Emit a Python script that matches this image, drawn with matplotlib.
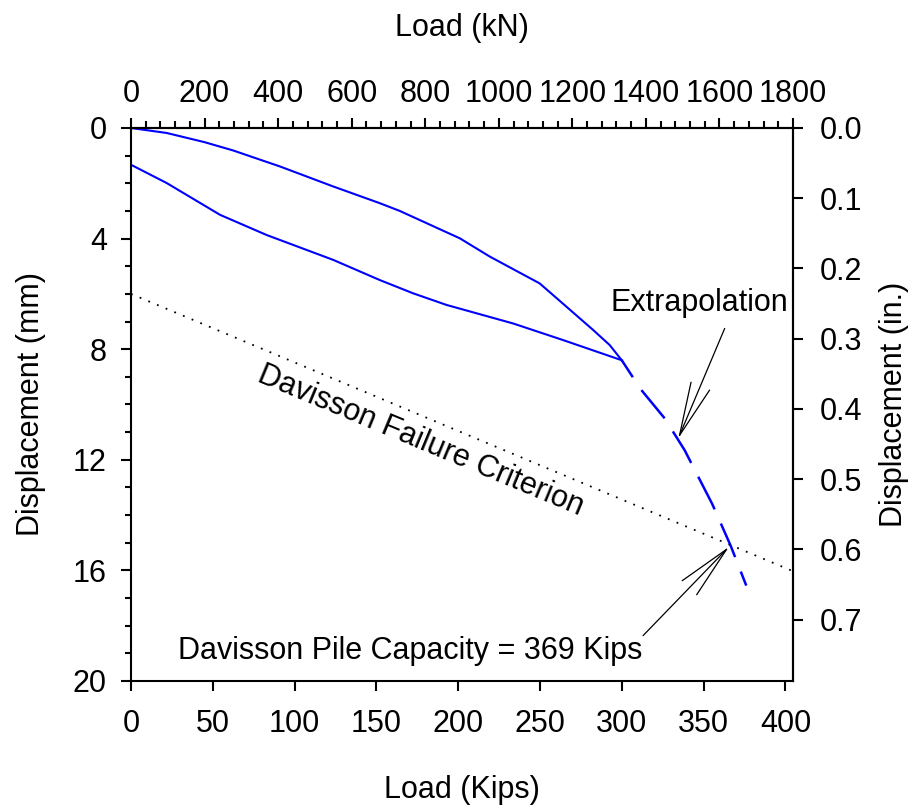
import matplotlib.pyplot as plt
from matplotlib.ticker import MultipleLocator

plt.rcParams['font.family'] = ['Liberation Sans', 'DejaVu Sans']
plt.rcParams['font.size'] = 22

KN_PER_KIP = 4.448
MM_PER_IN = 25.4

# loading branch (kips, mm)
load_up = [0, 21.8, 44.8, 62.3, 91, 123.4, 152.1, 164.3, 201, 219.3, 249.8, 266.1, 282.4, 292.6, 300]
disp_up = [0, 0.18, 0.51, 0.81, 1.39, 2.11, 2.72, 3.0, 3.99, 4.65, 5.62, 6.46, 7.3, 7.85, 8.4]

# unloading branch
load_down = [300, 264.1, 233.6, 192.9, 172.5, 152.1, 123.6, 82.9, 54.4, 21.8, 0]
disp_down = [8.4, 7.67, 7.07, 6.4, 5.98, 5.5, 4.77, 3.87, 3.14, 1.99, 1.33]

# extrapolated part of the curve
load_extrap = [300, 306.6, 312, 326.2, 338.4, 355.3, 366.5, 376.1]
disp_extrap = [8.4, 9.0, 9.48, 10.5, 11.65, 13.6, 15.1, 16.55]

# Davisson failure line
davisson_load = [0, 404.7]
davisson_disp = [6.0, 16.03]

capacity_kips = 369
capacity_disp = 15.15

fig = plt.figure(figsize=(9.11, 8.06), dpi=100)
ax = fig.add_subplot(111)
fig.subplots_adjust(left=0.1438, right=0.8705, top=0.8412, bottom=0.1551)

ax.plot(load_up, disp_up, color='blue', lw=1.5)
ax.plot(load_down, disp_down, color='blue', lw=1.5)
ax.plot(load_extrap, disp_extrap, color='blue', lw=1.8,
        linestyle=(6.5, (14.6, 6.2)))
ax.plot(davisson_load, davisson_disp, color='black', lw=1.3,
        linestyle=(0, (1, 4.2)))

ax.set_xlim(0, 1800 / KN_PER_KIP)
ax.set_ylim(20, 0)
ax.xaxis.set_major_locator(MultipleLocator(50))
ax.yaxis.set_major_locator(MultipleLocator(4))
ax.yaxis.set_minor_locator(MultipleLocator(1))

for s in ax.spines.values():
    s.set_linewidth(1.5)
ax.tick_params(which='major', length=7.4, width=1.5, direction='out')
ax.tick_params(which='minor', length=4.5, width=1.5, direction='out')
ax.tick_params(axis='x', pad=13)
ax.tick_params(axis='y', pad=10)

top = ax.secondary_xaxis('top', functions=(lambda x: x * KN_PER_KIP,
                                           lambda x: x / KN_PER_KIP))
top.xaxis.set_major_locator(MultipleLocator(200))
top.xaxis.set_minor_locator(MultipleLocator(40))
top.tick_params(which='major', length=7.4, width=1.5, pad=6)
top.tick_params(which='minor', length=4.8, width=1.5)
top.spines['top'].set_linewidth(1.5)

right = ax.secondary_yaxis('right', functions=(lambda y: y / MM_PER_IN,
                                               lambda y: y * MM_PER_IN))
right.yaxis.set_major_locator(MultipleLocator(0.1))
right.tick_params(which='major', length=7.4, width=1.5, pad=12)
right.spines['right'].set_linewidth(1.5)

ax.set_xlabel('Load (Kips)', labelpad=26)
top.set_xlabel('Load (kN)', labelpad=31)
ax.set_ylabel('Displacement (mm)', labelpad=19)
right.set_ylabel('Displacement (in.)', labelpad=12)

ax.text(177, 11.3, 'Davisson Failure Criterion', rotation=-22.6,
        rotation_mode='anchor', ha='center', va='center')

arrow = dict(arrowstyle='->,head_length=1.75,head_width=0.33', color='black',
             lw=0.9, shrinkA=0, shrinkB=0)
ax.annotate('', xy=(334.5, 11.23), xytext=(362.9, 7.25), arrowprops=arrow)
ax.text(347.6, 6.33, 'Extrapolation', ha='center', va='center')

ax.annotate('', xy=(capacity_kips - 3.5, capacity_disp), xytext=(313, 18.36),
            arrowprops=arrow)
ax.text(170.7, 18.9, f'Davisson Pile Capacity = {capacity_kips} Kips',
        ha='center', va='center')

fig.savefig('out.png', dpi=100)
